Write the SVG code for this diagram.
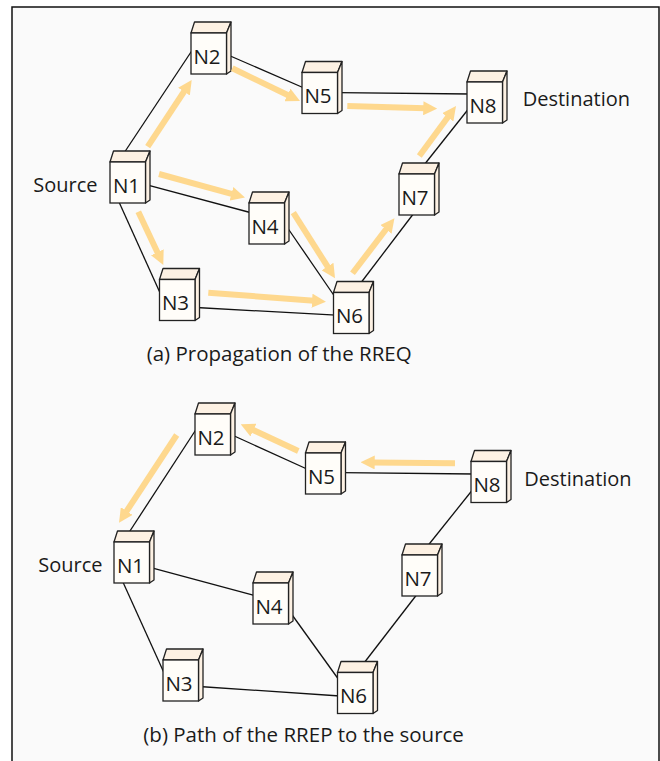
<svg xmlns="http://www.w3.org/2000/svg" xmlns:xlink="http://www.w3.org/1999/xlink" width="660" height="761" viewBox="0 0 660 761">
<style>
.frame{fill:#fafafa;stroke:#111;stroke-width:1.5}
.link{stroke:#111;stroke-width:1.3;fill:none}
.flow{stroke:#fed88e;stroke-width:6;fill:none;marker-end:url(#head)}
.front{fill:#fffdf9;stroke:#222;stroke-width:1.3}
.face{fill:#fdf1e3;stroke:#222;stroke-width:1.3;stroke-linejoin:round}
.nl{font-family:"Open Sans","Noto Sans",sans-serif;font-size:20.5px;fill:#1a1a1a;text-anchor:middle}
.lab{font-family:"Open Sans","Noto Sans",sans-serif;font-size:20px;fill:#1a1a1a}
.cap{font-family:"Open Sans","Noto Sans",sans-serif;font-size:20.5px;fill:#1a1a1a}
</style>
<defs>
<marker id="head" markerUnits="userSpaceOnUse" markerWidth="14" markerHeight="14" viewBox="0 0 14 14" refX="2" refY="7" orient="auto">
<path d="M0,0 L14,7 L0,14 z" fill="#fed88e"/>
</marker>
<g id="box">
<polygon class="face" points="0,0 3.5,-11 40,-11 35.5,0"/>
<polygon class="face" points="35.5,0 40,-11 40,38 35.5,41"/>
<rect class="front" x="0" y="0" width="35.5" height="41"/>
</g>
</defs>
<rect class="frame" x="12" y="7" width="647" height="760"/>

<g id="connectors">
<g id="links-a">
<line class="link" x1="124" y1="153" x2="193" y2="49"/>
<line class="link" x1="228" y1="55" x2="304" y2="88"/>
<line class="link" x1="338" y1="92.6" x2="470" y2="94"/>
<line class="link" x1="146" y1="184.7" x2="252" y2="213"/>
<line class="link" x1="119" y1="202" x2="161" y2="295"/>
<line class="link" x1="287" y1="227" x2="335" y2="297"/>
<line class="link" x1="196" y1="307.5" x2="336" y2="315.2"/>
<line class="link" x1="360" y1="284" x2="414" y2="213"/>
<line class="link" x1="424" y1="165" x2="470" y2="107"/>
</g>
<g id="links-b">
<line class="link" x1="128" y1="534" x2="197" y2="428"/>
<line class="link" x1="231" y1="434.5" x2="308" y2="469.5"/>
<line class="link" x1="341" y1="472.6" x2="474" y2="474"/>
<line class="link" x1="150" y1="567.3" x2="255" y2="595.7"/>
<line class="link" x1="122" y1="580" x2="165" y2="675"/>
<line class="link" x1="290" y1="612" x2="339" y2="680"/>
<line class="link" x1="199" y1="686.5" x2="340" y2="696"/>
<line class="link" x1="364" y1="663" x2="418" y2="593"/>
<line class="link" x1="428" y1="545.5" x2="474" y2="488"/>
</g>
</g>

<g id="nodes-a">
<g id="a-n1" transform="translate(110,162)"><use xlink:href="#box"/><text class="nl" x="16.5" y="30.5">N1</text></g>
<g id="a-n2" transform="translate(191,33)"><use xlink:href="#box"/><text class="nl" x="16" y="30.5">N2</text></g>
<g id="a-n3" transform="translate(159.5,279.5)"><use xlink:href="#box"/><text class="nl" x="16" y="30.5">N3</text></g>
<g id="a-n4" transform="translate(249,203)"><use xlink:href="#box"/><text class="nl" x="16" y="30.5">N4</text></g>
<g id="a-n5" transform="translate(302,72.5)"><use xlink:href="#box"/><text class="nl" x="16" y="30.5">N5</text></g>
<g id="a-n6" transform="translate(333.5,292.5)"><use xlink:href="#box"/><text class="nl" x="16" y="30.5">N6</text></g>
<g id="a-n7" transform="translate(399,174)"><use xlink:href="#box"/><text class="nl" x="16" y="30.5">N7</text></g>
<g id="a-n8" transform="translate(467,82)"><use xlink:href="#box"/><text class="nl" x="16" y="30.5">N8</text></g>
</g>

<g id="flows">
<line class="flow" x1="147.7" y1="146.7" x2="185.1" y2="90"/>
<line class="flow" x1="232.3" y1="68.3" x2="289.2" y2="95.8"/>
<line class="flow" x1="159" y1="174" x2="233.4" y2="194.3"/>
<line class="flow" x1="138.3" y1="211.7" x2="158.2" y2="254.1"/>
<line class="flow" x1="293.3" y1="212.7" x2="328.6" y2="268.2"/>
<line class="flow" x1="208.3" y1="292.7" x2="314" y2="300.8"/>
<line class="flow" x1="352.5" y1="273.3" x2="387.2" y2="227.8"/>
<line class="flow" x1="419.3" y1="156" x2="448.9" y2="115.7"/>
<line class="flow" x1="347.3" y1="106" x2="425.3" y2="108.3"/>
<line class="flow" x1="455" y1="463.3" x2="372.7" y2="462.4"/>
<line class="flow" x1="298.3" y1="451" x2="251.6" y2="429.3"/>
<line class="flow" x1="176.7" y1="435" x2="125.6" y2="512.7"/>
</g>

<g id="nodes-b">
<g id="b-n1" transform="translate(114,542)"><use xlink:href="#box"/><text class="nl" x="16.5" y="30.5">N1</text></g>
<g id="b-n2" transform="translate(195,414)"><use xlink:href="#box"/><text class="nl" x="16" y="30.5">N2</text></g>
<g id="b-n3" transform="translate(163,660)"><use xlink:href="#box"/><text class="nl" x="16" y="30.5">N3</text></g>
<g id="b-n4" transform="translate(253,583)"><use xlink:href="#box"/><text class="nl" x="16" y="30.5">N4</text></g>
<g id="b-n5" transform="translate(305.5,453)"><use xlink:href="#box"/><text class="nl" x="16" y="30.5">N5</text></g>
<g id="b-n6" transform="translate(337.5,672.5)"><use xlink:href="#box"/><text class="nl" x="16" y="30.5">N6</text></g>
<g id="b-n7" transform="translate(402,555)"><use xlink:href="#box"/><text class="nl" x="16" y="30.5">N7</text></g>
<g id="b-n8" transform="translate(471,461.5)"><use xlink:href="#box"/><text class="nl" x="16" y="30.5">N8</text></g>
</g>

<g id="labels">
<text class="lab" x="33.3" y="191.7">Source</text>
<text class="lab" x="522.7" y="106">Destination</text>
<text class="cap" x="146.7" y="360.5">(a) Propagation of the RREQ</text>
<text class="lab" x="38.3" y="571.7">Source</text>
<text class="lab" x="524.3" y="485.7">Destination</text>
<text class="cap" x="143.3" y="742">(b) Path of the RREP to the source</text>
</g>
</svg>
